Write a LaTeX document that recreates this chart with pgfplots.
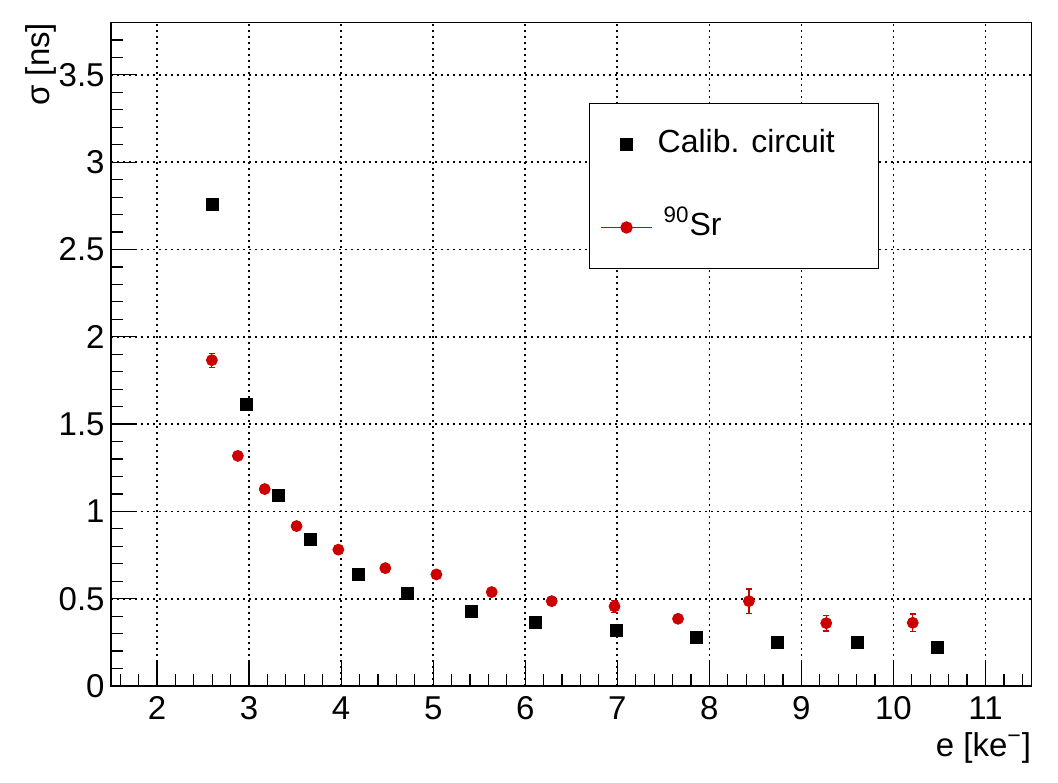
\documentclass[border=0pt]{standalone}
\usepackage{pgfplots}
\pgfplotsset{compat=1.18}
\usepackage{fontspec}
\setmainfont{Liberation Sans}
\definecolor{srred}{RGB}{204,0,0}
\pgfplotsset{
  calibleg/.style={legend image code/.code={\draw[mark repeat=2,mark phase=2,##1] plot coordinates {(0pt,0pt)(12.75pt,0pt)(25.5pt,0pt)};}},
  srleg/.style={legend image code/.code={\draw[srred, line width=0.6pt] (0pt,0pt) -- (25.5pt,0pt);\draw[mark repeat=2,mark phase=2,##1] plot coordinates {(0pt,0pt)(12.75pt,0pt)(25.5pt,0pt)};}},
}
\pgfplotstableread{
x y
2.60 2.760
2.97 1.614
3.32 1.091
3.67 0.842
4.19 0.639
4.715 0.532
5.415 0.429
6.115 0.362
6.99 0.318
7.86 0.280
8.74 0.248
9.61 0.248
10.48 0.222
}\calib
\pgfplotstableread{
x y e
2.596 1.866 0.040
2.878 1.318 0.010
3.17 1.128 0.010
3.516 0.916 0.010
3.97 0.781 0.010
4.48 0.675 0.012
5.035 0.639 0.012
5.636 0.538 0.012
6.288 0.486 0.015
6.97 0.456 0.035
7.66 0.385 0.015
8.43 0.486 0.070
9.27 0.360 0.045
10.21 0.362 0.050
}\srdata
\begin{document}
\begin{tikzpicture}
\path[use as bounding box] (-55.5pt,-48pt) rectangle (473.5pt,343pt);
\begin{axis}[
  scale only axis, width=460.25pt, height=331.75pt,
  xmin=1.5, xmax=11.5, ymin=0, ymax=3.8,
  xtick={2,...,11}, ytick={0,0.5,1,1.5,2,2.5,3,3.5},
  minor xtick={1.6,1.8,2.2,2.4,2.6,2.8,3.2,3.4,3.6,3.8,4.2,4.4,4.6,4.8,5.2,5.4,5.6,5.8,6.2,6.4,6.6,6.8,7.2,7.4,7.6,7.8,8.2,8.4,8.6,8.8,9.2,9.4,9.6,9.8,10.2,10.4,10.6,10.8,11.2,11.4},
  minor ytick={0.1,0.2,0.3,0.4,0.6,0.7,0.8,0.9,1.1,1.2,1.3,1.4,1.6,1.7,1.8,1.9,2.1,2.2,2.3,2.4,2.6,2.7,2.8,2.9,3.1,3.2,3.3,3.4,3.6,3.7},
  tick align=inside, tick pos=left,
  major tick length=12pt, minor tick length=6pt,
  every tick/.style={black, line width=0.6pt},
  axis line style={line width=0.7pt},
  xmajorgrids, ymajorgrids,
  grid style={black, line width=0.8pt, dash pattern=on 0.8pt off 2.2pt},
  font=\fontsize{16.5}{19}\selectfont,
  /pgf/number format/assume math mode=true,
  yticklabel style={inner sep=0pt, xshift=-3pt, /pgf/number format/fixed},
  xticklabel style={inner sep=0pt, yshift=-5pt},
  xlabel={e [ke\textsuperscript{\char"2212}]},
  ylabel={σ [ns]},
  xlabel style={at={(axis description cs:1,-0.1055)}, anchor=base east, inner sep=0pt},
  ylabel style={at={(axis description cs:-0.067,1)}, anchor=base east, inner sep=0pt},
  legend style={at={(axis description cs:0.519,0.879)}, anchor=north west,
    draw=black, line width=0.7pt, inner xsep=5.5pt, inner ysep=13.5pt,
    row sep=27.5pt, column sep=2.5pt,
    nodes={inner sep=0pt, text height=11pt, text depth=3pt},
    font=\fontsize{16}{19}\selectfont},
  legend cell align=left,
]
\addplot[only marks, mark=square*, mark size=3pt, black, calibleg]
  table[x=x, y=y] {\calib};
\addlegendentry{\makebox[105pt][l]{Calib. circuit}}
\addplot[only marks, mark=*, mark size=2.75pt, srred, mark options={fill=srred, draw=srred}, srleg,
  error bars/.cd, y dir=both, y explicit, error mark options={rotate=90, mark size=1.6pt, line width=0.6pt, srred}, error bar style={line width=0.6pt, srred}]
  table[x=x, y=y, y error=e] {\srdata};
\addlegendentry{\makebox[105pt][l]{\hspace*{3pt}\textsuperscript{90}Sr}}
\end{axis}
\end{tikzpicture}
\end{document}
